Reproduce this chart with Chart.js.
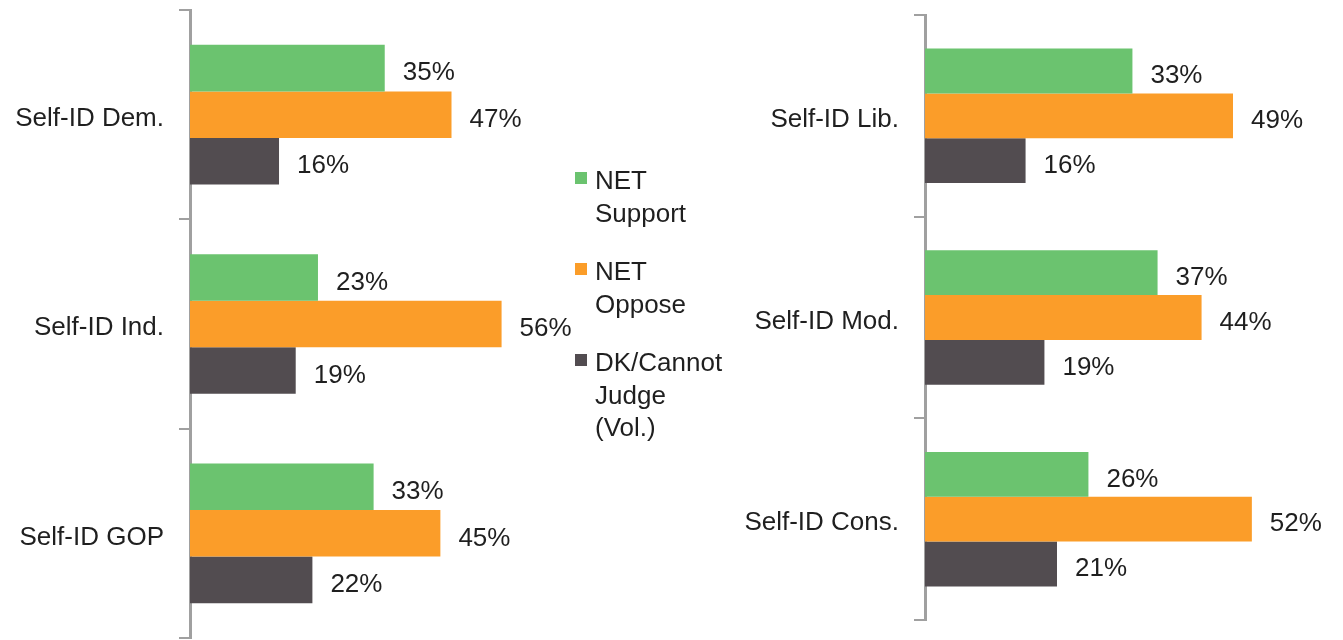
<!DOCTYPE html>
<html>
<head>
<meta charset="utf-8">
<script src="https://cdn.jsdelivr.net/npm/chart.js@4"></script>
<style>
  body { margin: 0; background: #fff; width: 1343px; height: 640px; overflow: hidden; position: relative; }
  canvas { position: absolute; top: 0; }
  #chartLeft { left: 0; }
  #chartRight { left: 700px; }
  #legend { position: absolute; left: 575px; top: 164px; font-family: 'Liberation Sans', Arial, sans-serif; font-size: 26px; line-height: 32.5px; color: #1f1f1f; }
  .item { display: flex; margin-bottom: 26px; }
  .box { width: 12px; height: 12px; margin-top: 8px; margin-right: 8px; flex: none; }
  .txt { width: min-content; }
</style>
</head>
<body>
<canvas id="chartLeft" width="700" height="640"></canvas>
<canvas id="chartRight" width="643" height="640"></canvas>
<div id="legend"></div>
<script>
// series / categories
const seriesNames = ["NET Support", "NET Oppose", "DK/Cannot Judge (Vol.)"];
const seriesColors = ["#6bc36f", "#fb9d29", "#524c50"];

const partyLabels = ["Self-ID Dem.", "Self-ID Ind.", "Self-ID GOP"];
const partySupport = [35, 23, 33];
const partyOppose = [47, 56, 45];
const partyDK = [16, 19, 22];

const ideoLabels = ["Self-ID Lib.", "Self-ID Mod.", "Self-ID Cons."];
const ideoSupport = [33, 37, 26];
const ideoOppose = [49, 44, 52];
const ideoDK = [16, 19, 21];

Chart.defaults.font.family = "'Liberation Sans', Arial, sans-serif";
Chart.defaults.font.size = 26;
Chart.defaults.color = "#1f1f1f";

// draws "xx%" to the right of each bar
const valueLabels = {
    id: "valueLabels",
    afterDatasetsDraw(chart) {
        const ctx = chart.ctx;
        ctx.save();
        ctx.font = "26px 'Liberation Sans', Arial, sans-serif";
        ctx.fillStyle = "#1f1f1f";
        ctx.textBaseline = "middle";
        ctx.textAlign = "left";
        chart.data.datasets.forEach((ds, i) => {
            chart.getDatasetMeta(i).data.forEach((bar, j) => {
                ctx.fillText(ds.data[j] + "%", bar.x + 18, bar.y + 5);
            });
        });
        ctx.restore();
    }
};

function makeChart(id, labels, values, axisWidth, padTop, padBottom, padRight) {
    new Chart(document.getElementById(id), {
        type: "bar",
        data: {
            labels: labels,
            datasets: values.map((v, i) => ({
                label: seriesNames[i],
                data: v,
                backgroundColor: seriesColors[i],
                categoryPercentage: 0.667,
                barPercentage: 1.0
            }))
        },
        options: {
            indexAxis: "y",
            responsive: false,
            animation: false,
            layout: { padding: { top: padTop, bottom: padBottom, left: 0, right: padRight } },
            plugins: { legend: { display: false }, tooltip: { enabled: false } },
            scales: {
                x: { display: false, min: 0, max: 66.5 },
                y: {
                    afterFit(scale) {
                        scale.width = axisWidth;
                        scale.paddingTop = 0;
                        scale.paddingBottom = 0;
                    },
                    border: { display: true, color: "#a0a0a0", width: 3 },
                    grid: { drawOnChartArea: false, drawTicks: true, tickLength: 11, color: "#a0a0a0", lineWidth: 2 },
                    ticks: { padding: 15, labelOffset: 4, color: "#1f1f1f", font: { size: 26 } }
                }
            }
        },
        plugins: [valueLabels]
    });
}

makeChart("chartLeft", partyLabels, [partySupport, partyOppose, partyDK], 190, 10, 2, 140);
makeChart("chartRight", ideoLabels, [ideoSupport, ideoOppose, ideoDK], 225, 15, 20, 0);

// legend in the middle
const legend = document.getElementById("legend");
seriesNames.forEach((name, i) => {
    const item = document.createElement("div");
    item.className = "item";
    const box = document.createElement("div");
    box.className = "box";
    box.style.background = seriesColors[i];
    const txt = document.createElement("div");
    txt.className = "txt";
    txt.textContent = name;
    item.appendChild(box);
    item.appendChild(txt);
    legend.appendChild(item);
});
</script>
</body>
</html>
